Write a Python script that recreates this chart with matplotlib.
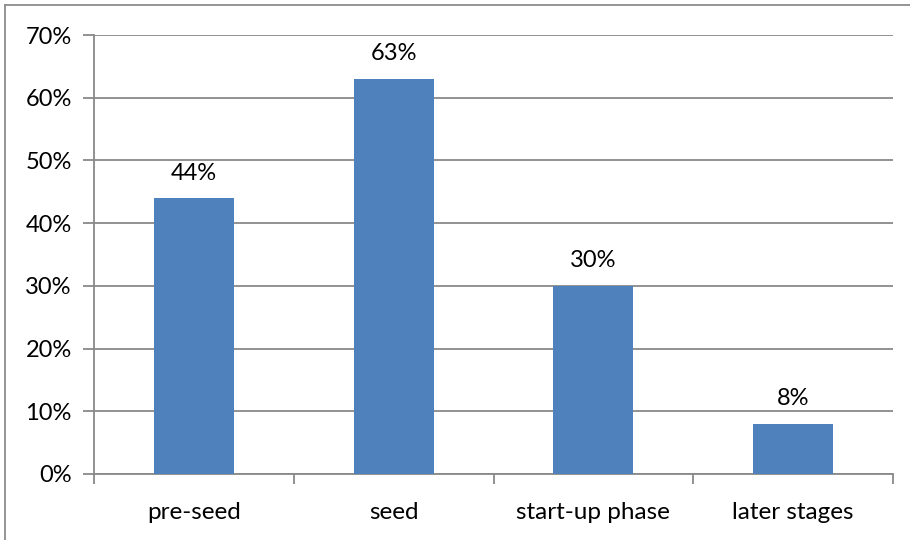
import matplotlib.pyplot as plt
from matplotlib.lines import Line2D
from matplotlib.ticker import FuncFormatter

categories = ['pre-seed', 'seed', 'start-up phase', 'later stages']
values = [44, 63, 30, 8]
y_ticks = [0, 10, 20, 30, 40, 50, 60, 70]

plt.rcParams['font.family'] = ['Lato', 'DejaVu Sans']

fig = plt.figure(figsize=(9.1, 5.4), dpi=100)
ax = fig.add_axes([94 / 910, 1 - 474 / 540, 799 / 910, 439 / 540])

grid_col = '#898989'
bar_col = '#4F81BD'

x = list(range(len(categories)))
ax.bar(x, values, width=0.4, color=bar_col, zorder=3)
for xi, v in zip(x, values):
    ax.text(xi, v + 2.3, f'{v}%', ha='center', va='bottom', fontsize=17, color='black')

ax.set_xlim(-0.5, len(categories) - 0.5)
ax.set_ylim(0, 70)
ax.set_yticks(y_ticks)
ax.yaxis.set_major_formatter(FuncFormatter(lambda v, p: f'{int(v)}%'))
ax.yaxis.grid(True, color=grid_col, linewidth=1.3, zorder=0)

# category labels between boundary ticks
ax.set_xticks([i - 0.5 for i in range(len(categories) + 1)])
ax.set_xticklabels([])
ax.set_xticks(x, minor=True)
ax.set_xticklabels(categories, minor=True, fontsize=17.5)
ax.tick_params(axis='x', which='minor', length=0, pad=20)
ax.tick_params(axis='x', which='major', length=7, width=1.3, color=grid_col, direction='out')
ax.tick_params(axis='y', length=8, width=1.3, color=grid_col, direction='out', labelsize=17, pad=8)

for s in ['top', 'right']:
    ax.spines[s].set_visible(False)
for s in ['left', 'bottom']:
    ax.spines[s].set_color(grid_col)
    ax.spines[s].set_linewidth(1.3)

# outer frame (top and left only visible)
fig.add_artist(Line2D([5 / 910, 1], [1 - 5 / 540, 1 - 5 / 540], color='#8c8c8c', linewidth=1.3, transform=fig.transFigure))
fig.add_artist(Line2D([5 / 910, 5 / 910], [0, 1 - 5 / 540], color='#8c8c8c', linewidth=1.3, transform=fig.transFigure))

fig.savefig('out.png', dpi=100)
